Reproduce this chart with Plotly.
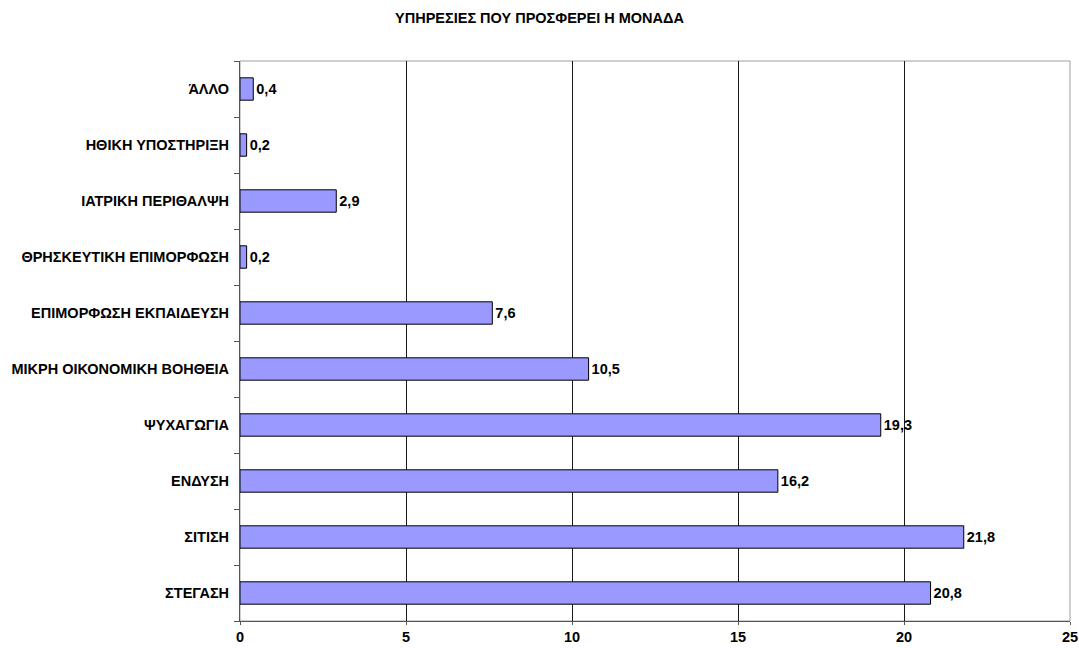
import plotly.graph_objects as go

categories = ["ΣΤΕΓΑΣΗ", "ΣΙΤΙΣΗ", "ΕΝΔΥΣΗ", "ΨΥΧΑΓΩΓΙΑ", "ΜΙΚΡΗ ΟΙΚΟΝΟΜΙΚΗ ΒΟΗΘΕΙΑ",
              "ΕΠΙΜΟΡΦΩΣΗ ΕΚΠΑΙΔΕΥΣΗ", "ΘΡΗΣΚΕΥΤΙΚΗ ΕΠΙΜΟΡΦΩΣΗ", "ΙΑΤΡΙΚΗ ΠΕΡΙΘΑΛΨΗ",
              "ΗΘΙΚΗ ΥΠΟΣΤΗΡΙΞΗ", "ΆΛΛΟ"]
values = [20.8, 21.8, 16.2, 19.3, 10.5, 7.6, 0.2, 2.9, 0.2, 0.4]
value_labels = ["<b>" + f"{v:.1f}".replace(".", ",") + "</b>" for v in values]
x_ticks = [0, 5, 10, 15, 20, 25]
title = "ΥΠΗΡΕΣΙΕΣ ΠΟΥ ΠΡΟΣΦΕΡΕΙ Η ΜΟΝΑΔΑ"

FONT = "Liberation Sans, Arial, sans-serif"
FS = 14.5

fig = go.Figure(go.Bar(
    y=categories, x=values, orientation="h",
    marker=dict(color="#9999FF", line=dict(color="#000000", width=1)),
    width=0.4,
    text=value_labels, textposition="outside", cliponaxis=False,
    textfont=dict(family=FONT, size=FS, color="#000000"),
))

fig.update_layout(
    width=1079, height=648,
    paper_bgcolor="white", plot_bgcolor="white",
    margin=dict(l=240, r=9, t=61, b=27),
    showlegend=False,
    font=dict(family=FONT, size=FS, color="#000000"),
    title=dict(text="<b>" + title + "</b>", x=0.5, xanchor="center", y=1 - 18 / 648, yanchor="middle",
               font=dict(family=FONT, size=FS, color="#000000")),
    shapes=[dict(type="rect", xref="paper", yref="paper", x0=0, x1=1, y0=0, y1=1,
                 line=dict(color="#a0a0a0", width=1), layer="below")],
)
fig.update_xaxes(
    range=[0, 25], tickvals=x_ticks, ticktext=[f"<b>{t}</b>" for t in x_ticks],
    showgrid=True, gridcolor="#1a1a1a", gridwidth=1,
    showline=True, linecolor="#555555", linewidth=1,
    ticks="outside", ticklen=3, tickcolor="#555555",
    zeroline=False, tickfont=dict(family=FONT, size=FS), automargin=False,
)
fig.update_yaxes(
    categoryorder="array", categoryarray=categories,
    ticktext=[f"<b>{c}</b>" for c in categories], tickvals=categories,
    showline=True, linecolor="#555555", linewidth=1,
    ticks="outside", ticklen=5, tickcolor="#555555", tickson="boundaries",
    showgrid=False, tickfont=dict(family=FONT, size=FS), ticklabelstandoff=7,
    automargin=False,
)
fig.write_html("out.html", config={"displayModeBar": False},
               post_script="document.body.style.margin='0';document.body.style.overflow='hidden';")
